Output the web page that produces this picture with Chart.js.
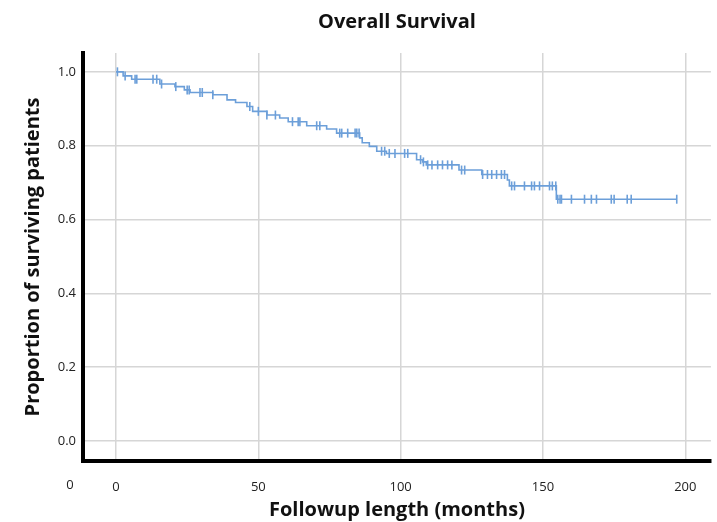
<!DOCTYPE html>
<html>
<head>
<meta charset="utf-8">
<script src="https://cdn.jsdelivr.net/npm/chart.js@4"></script>
<style>
  body { margin: 0; background: #fff; }
  #wrap { width: 717px; height: 522px; }
</style>
</head>
<body>
<div id="wrap"><canvas id="chart1"></canvas></div>
<script>
// Kaplan-Meier steps (months, survival after the drop)
const stepTimes = [0, 2.5, 5.5, 15.4, 20.7, 24, 26, 34, 39, 42, 46, 48, 53, 57.5, 60.5, 67, 74, 77.5, 85.6, 86.5, 89, 91.6, 95, 105.6, 107.7, 109, 120.5, 128.5, 137.5, 138.2, 154.7, 197];
const stepSurv  = [1.0, 0.989, 0.98, 0.967, 0.96, 0.951, 0.944, 0.938, 0.924, 0.917, 0.906, 0.893, 0.883, 0.875, 0.865, 0.854, 0.845, 0.834, 0.821, 0.808, 0.798, 0.785, 0.779, 0.762, 0.756, 0.748, 0.734, 0.722, 0.707, 0.691, 0.655, 0.655];

// censored observations (months)
const censorTimes = [0.5, 3.2, 6.7, 7.3, 13, 14.3, 16, 21, 25, 25.7, 29.5, 30.3, 34, 47, 50, 53, 56, 62, 64, 64.6, 70.5, 71.6, 78.6, 79.3, 81.4, 84, 84.6, 85.4, 93.3, 94.4, 96, 98, 101.4, 102.5, 107, 108, 109.5, 111, 113, 114.7, 116.5, 118, 121.4, 122.5, 128.8, 130.5, 132, 133.7, 135.4, 136.5, 139, 140, 143.5, 146, 147, 148.8, 152.3, 153.3, 154.5, 155.2, 156, 156.5, 160, 164.6, 167, 168.8, 174, 175, 179.6, 181, 197];

const xTicks = [0, 50, 100, 150, 200];
const yTicks = [0, 0.2, 0.4, 0.6, 0.8, 1.0];

const col = '#6c9fd9';

function survAt(t) {
    let s = stepSurv[0];
    for (let i = 0; i < stepTimes.length; i++) {
        if (stepTimes[i] <= t) s = stepSurv[i];
    }
    return s;
}

const curve = stepTimes.map((t, i) => ({x: t, y: stepSurv[i]}));
const censored = censorTimes.map(t => ({x: t, y: survAt(t)}));

// the lone "0" printed left of the x axis in the original
const strayZero = {
    id: 'strayZero',
    afterDraw(chart) {
        const ctx = chart.ctx;
        const a = chart.chartArea;
        ctx.save();
        ctx.font = '13px "Open Sans"';
        ctx.fillStyle = '#222';
        ctx.textAlign = 'center';
        ctx.textBaseline = 'middle';
        ctx.fillText('0', a.left - 13, a.bottom + 24);
        ctx.restore();
    }
};

Chart.defaults.font.family = '"Open Sans", "DejaVu Sans", sans-serif';
Chart.defaults.color = '#222';

new Chart(document.getElementById('chart1'), {
    type: 'scatter',
    data: {
        datasets: [
            {
                data: curve,
                showLine: true,
                stepped: 'before',
                borderColor: col,
                borderWidth: 1.6,
                pointRadius: 0,
                fill: false
            },
            {
                data: censored,
                showLine: false,
                pointStyle: 'line',
                rotation: 90,
                pointRadius: 4.5,
                borderColor: col,
                borderWidth: 1.6,
                backgroundColor: col
            }
        ]
    },
    options: {
        responsive: true,
        maintainAspectRatio: false,
        animation: false,
        layout: { padding: { left: 0, right: 5, top: 8, bottom: 0 } },
        plugins: {
            legend: { display: false },
            tooltip: { enabled: false },
            title: {
                display: true,
                text: 'Overall Survival',
                fullSize: false,
                font: { size: 20, weight: 'bold' },
                color: '#111',
                padding: { top: 2, bottom: 19 }
            }
        },
        scales: {
            x: {
                type: 'linear',
                min: -11.6,
                max: 209,
                afterBuildTicks: axis => { axis.ticks = xTicks.map(v => ({value: v})); },
                afterFit: axis => { axis.height = 61; },
                ticks: { font: { size: 13 }, padding: 18, color: '#222' },
                grid: { color: '#d6d6d6', lineWidth: 1.5, drawTicks: false },
                border: { color: '#000', width: 4 },
                title: {
                    display: true,
                    text: 'Followup length (months)',
                    font: { size: 20, weight: 'bold' },
                    color: '#111',
                    padding: { top: 4, bottom: 0 }
                }
            },
            y: {
                min: -0.054,
                max: 1.051,
                afterBuildTicks: axis => { axis.ticks = yTicks.map(v => ({value: v})); },
                afterFit: axis => { axis.width = 83; },
                ticks: { font: { size: 13 }, padding: 7, color: '#222', callback: v => v.toFixed(1) },
                grid: { color: '#d6d6d6', lineWidth: 1.5, drawTicks: false },
                border: { color: '#000', width: 4 },
                title: {
                    display: true,
                    text: 'Proportion of surviving patients',
                    font: { size: 20, weight: 'bold' },
                    color: '#111',
                    padding: { top: 21, bottom: 0 }
                }
            }
        }
    },
    plugins: [strayZero]
});
</script>
</body>
</html>
